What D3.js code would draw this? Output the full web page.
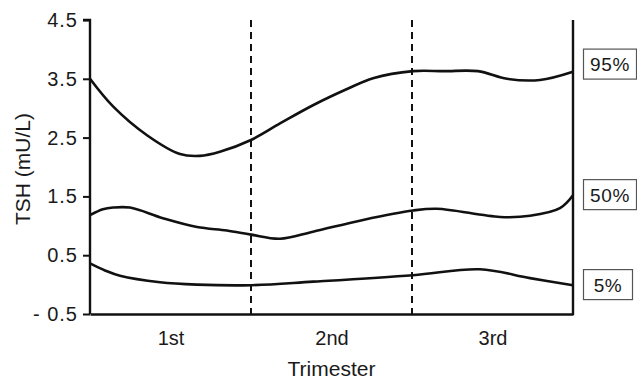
<!DOCTYPE html>
<html>
<head>
<meta charset="utf-8">
<script src="https://cdn.jsdelivr.net/npm/d3@7"></script>
<style>
  html, body { margin: 0; padding: 0; background: #fff; }
  svg { display: block; font-family: "Liberation Sans", Arial, sans-serif; }
</style>
</head>
<body>
<svg id="chart" width="637" height="381"></svg>
<script>
// ---- data (x position in trimesters, 0..3) ----
const trimesters = ["1st", "2nd", "3rd"];
const yTicks = [-0.5, 0.5, 1.5, 2.5, 3.5, 4.5];

const p95x = [0, 0.143, 0.354, 0.559, 0.683, 0.807, 1.0, 1.18, 1.385, 1.6, 1.758, 2.006, 2.2, 2.41, 2.59, 2.795, 3.0];
const p95y = [3.50, 3.03, 2.54, 2.22, 2.19, 2.26, 2.46, 2.74, 3.05, 3.33, 3.51, 3.63, 3.63, 3.63, 3.50, 3.48, 3.62];

const p50x = [0, 0.08, 0.143, 0.248, 0.453, 0.665, 0.85, 1.0, 1.18, 1.385, 1.696, 2.006, 2.155, 2.547, 2.733, 2.919, 3.0];
const p50y = [1.18, 1.28, 1.31, 1.31, 1.13, 0.98, 0.92, 0.85, 0.78, 0.90, 1.10, 1.26, 1.29, 1.15, 1.17, 1.30, 1.52];

const p05x = [0, 0.093, 0.186, 0.435, 0.665, 1.0, 1.385, 2.006, 2.422, 2.733, 3.0];
const p05y = [0.36, 0.24, 0.15, 0.04, 0.0, -0.01, 0.05, 0.16, 0.26, 0.11, -0.01];

const seriesLabels = ["95%", "50%", "5%"];
const labelValues = [3.75, 1.53, 0.0];

// ---- layout ----
const svg = d3.select("#chart");
const mLeft = 90, mRight = 573, mTop = 20, mBottom = 314;

const x = d3.scaleLinear().domain([0, 3]).range([mLeft, mRight]);
const y = d3.scaleLinear().domain([-0.5, 4.5]).range([mBottom, mTop]);

// dashed trimester dividers
svg.selectAll("line.div").data([1, 2]).join("line")
  .attr("x1", d => x(d)).attr("x2", d => x(d))
  .attr("y1", mTop).attr("y2", mBottom)
  .attr("stroke", "#111").attr("stroke-width", 2)
  .attr("stroke-dasharray", "7,5");

// curves
const line = d3.line().x(d => x(d[0])).y(d => y(d[1])).curve(d3.curveCatmullRom.alpha(0.5));
const series = [
  d3.zip(p95x, p95y),
  d3.zip(p50x, p50y),
  d3.zip(p05x, p05y)
];
svg.selectAll("path.curve").data(series).join("path")
  .attr("d", line)
  .attr("fill", "none").attr("stroke", "#111").attr("stroke-width", 2.6);

// y axis
const yAxis = d3.axisLeft(y).tickValues(yTicks).tickSize(7).tickPadding(5)
  .tickFormat(d => d < 0 ? "- " + Math.abs(d).toFixed(1) : d.toFixed(1));
const ga = svg.append("g").attr("transform", `translate(${mLeft},0)`).call(yAxis);
ga.select(".domain").attr("stroke", "#111").attr("stroke-width", 2.4).attr("d", `M-7,${mTop}H0V${mBottom}`);
ga.selectAll(".tick line").attr("stroke", "#111").attr("stroke-width", 2);
ga.selectAll(".tick text").attr("font-size", 20).attr("fill", "#1a1a1a")
  .attr("letter-spacing", "1px").attr("font-family", "Liberation Sans, Arial, sans-serif");

// x axis (bottom line, category labels)
const xAxis = d3.axisBottom(x).tickValues([0.5, 1.5, 2.5]).tickSize(0).tickPadding(17)
  .tickFormat((d, i) => trimesters[i]);
const gx = svg.append("g").attr("transform", `translate(0,${mBottom})`).call(xAxis);
gx.select(".domain").attr("stroke", "#111").attr("stroke-width", 2.4);
gx.selectAll(".tick text").attr("font-size", 20).attr("fill", "#1a1a1a")
  .attr("font-family", "Liberation Sans, Arial, sans-serif");

// right border line
svg.append("line").attr("x1", mRight).attr("x2", mRight).attr("y1", mTop).attr("y2", mBottom + 1)
  .attr("stroke", "#111").attr("stroke-width", 2.4);

// axis titles
svg.append("text").attr("x", x(1.5)).attr("y", 376)
  .attr("text-anchor", "middle").attr("font-size", 21).attr("fill", "#1a1a1a").text("Trimester");
svg.append("text").attr("transform", `translate(30,${(mTop + mBottom) / 2 + 2}) rotate(-90)`)
  .attr("text-anchor", "middle").attr("font-size", 21).attr("fill", "#1a1a1a").text("TSH (mU/L)");

// percentile label boxes
const boxW = [53, 53, 49];
const lg = svg.selectAll("g.lab").data(seriesLabels).join("g")
  .attr("transform", (d, i) => `translate(583.5,${y(labelValues[i]) - 15})`);
lg.append("rect").attr("width", (d, i) => boxW[i]).attr("height", 30)
  .attr("fill", "#fff").attr("stroke", "#555").attr("stroke-width", 1.2);
lg.append("text").attr("x", (d, i) => boxW[i] / 2).attr("y", 22)
  .attr("text-anchor", "middle").attr("font-size", 19).attr("fill", "#1a1a1a")
  .attr("letter-spacing", "0.6px").text(d => d);
</script>
</body>
</html>
